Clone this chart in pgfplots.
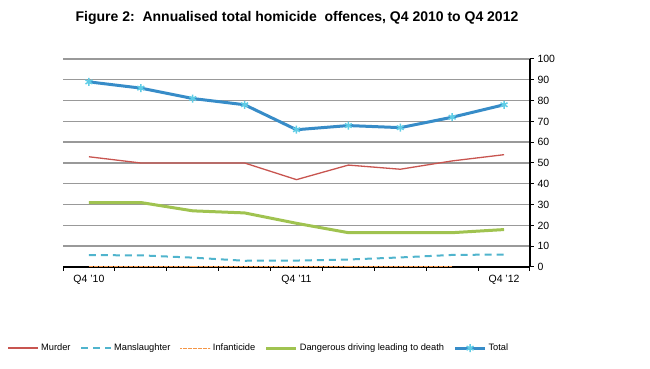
\documentclass[border=0pt]{standalone}
\usepackage{fontspec}
\setmainfont{Liberation Sans}
\usepackage{pgfplots}
\pgfplotsset{compat=1.18}
\definecolor{murder}{RGB}{200,85,80}
\definecolor{mansl}{RGB}{80,180,205}
\definecolor{infant}{RGB}{245,150,70}
\definecolor{driving}{RGB}{160,195,80}
\definecolor{total}{RGB}{55,140,200}
\definecolor{totalmark}{RGB}{95,205,230}
\begin{document}
\begin{tikzpicture}[x=1pt,y=1pt]
\useasboundingbox (0,0) rectangle (650,369);
\node[font=\bfseries\fontsize{14}{16}\selectfont] at (297,351) {Figure 2:\ \ Annualised total homicide\ \ offences, Q4 2010 to Q4 2012};
\begin{axis}[
  at={(63pt,102pt)}, anchor=south west,
  scale only axis, width=467pt, height=208pt,
  xmin=-0.5, xmax=8.5, ymin=0, ymax=100,
  axis y line*=right, axis x line*=bottom,
  axis line style={black, line width=1.2pt},
  ytick={0,10,...,100},
  ymajorgrids, grid style={gray!80, line width=1.4pt},
  xtick={0,4,8}, xticklabels={Q4 '10,Q4 '11,Q4 '12},
  major x tick style={draw=none},
  minor xtick={-0.5,0.5,...,8.5},
  minor x tick style={black, line width=1pt},
  minor tick length=4pt,
  major y tick style={black, line width=1pt},
  major tick length=4pt,
  tick align=outside,
  ticklabel style={font=\fontsize{10.5}{12}\selectfont},
  /pgf/number format/assume math mode=true,
  xticklabel style={yshift=-1pt},
  legend style={at={(-0.125,-0.39)}, anchor=west, draw=none, fill=none,
    font=\fontsize{9.3}{11}\selectfont, legend columns=5,
    /tikz/every even column/.append style={column sep=7.5pt}},
  legend image code/.code={\draw[#1, mark repeat=2, mark phase=2] plot coordinates {(0pt,0pt) (15pt,0pt) (30pt,0pt)};},
  legend cell align=left,
]
\addplot[murder, line width=1.3pt] coordinates {(0,53) (1,50) (2,50) (3,50) (4,42) (5,49) (6,47) (7,51) (8,54)};
\addlegendentry{Murder}
\addplot[mansl, line width=2pt, dash pattern=on 7pt off 5pt] coordinates {(0,5.7) (1,5.6) (2,4.5) (3,3) (4,3.1) (5,3.6) (6,4.6) (7,5.8) (8,6)};
\addlegendentry{Manslaughter}
\addplot[infant, line width=1pt, dash pattern=on 2pt off 0.5pt] coordinates {(0,0.4) (1,0.4) (2,0.4) (3,0.4) (4,0.4) (5,0.4) (6,0.4) (7,0.4)};
\addlegendentry{Infanticide}
\addplot[driving, line width=3pt] coordinates {(0,31) (1,31) (2,27) (3,26) (4,21) (5,16.5) (6,16.5) (7,16.5) (8,18)};
\addlegendentry{Dangerous driving leading to death}
\addplot[total, line width=3pt, mark=asterisk, mark size=4pt, mark options={totalmark, line width=1.5pt}] coordinates {(0,89) (1,86) (2,81) (3,78) (4,66) (5,68) (6,67) (7,72) (8,78)};
\addlegendentry{Total}
\end{axis}
\end{tikzpicture}
\end{document}
